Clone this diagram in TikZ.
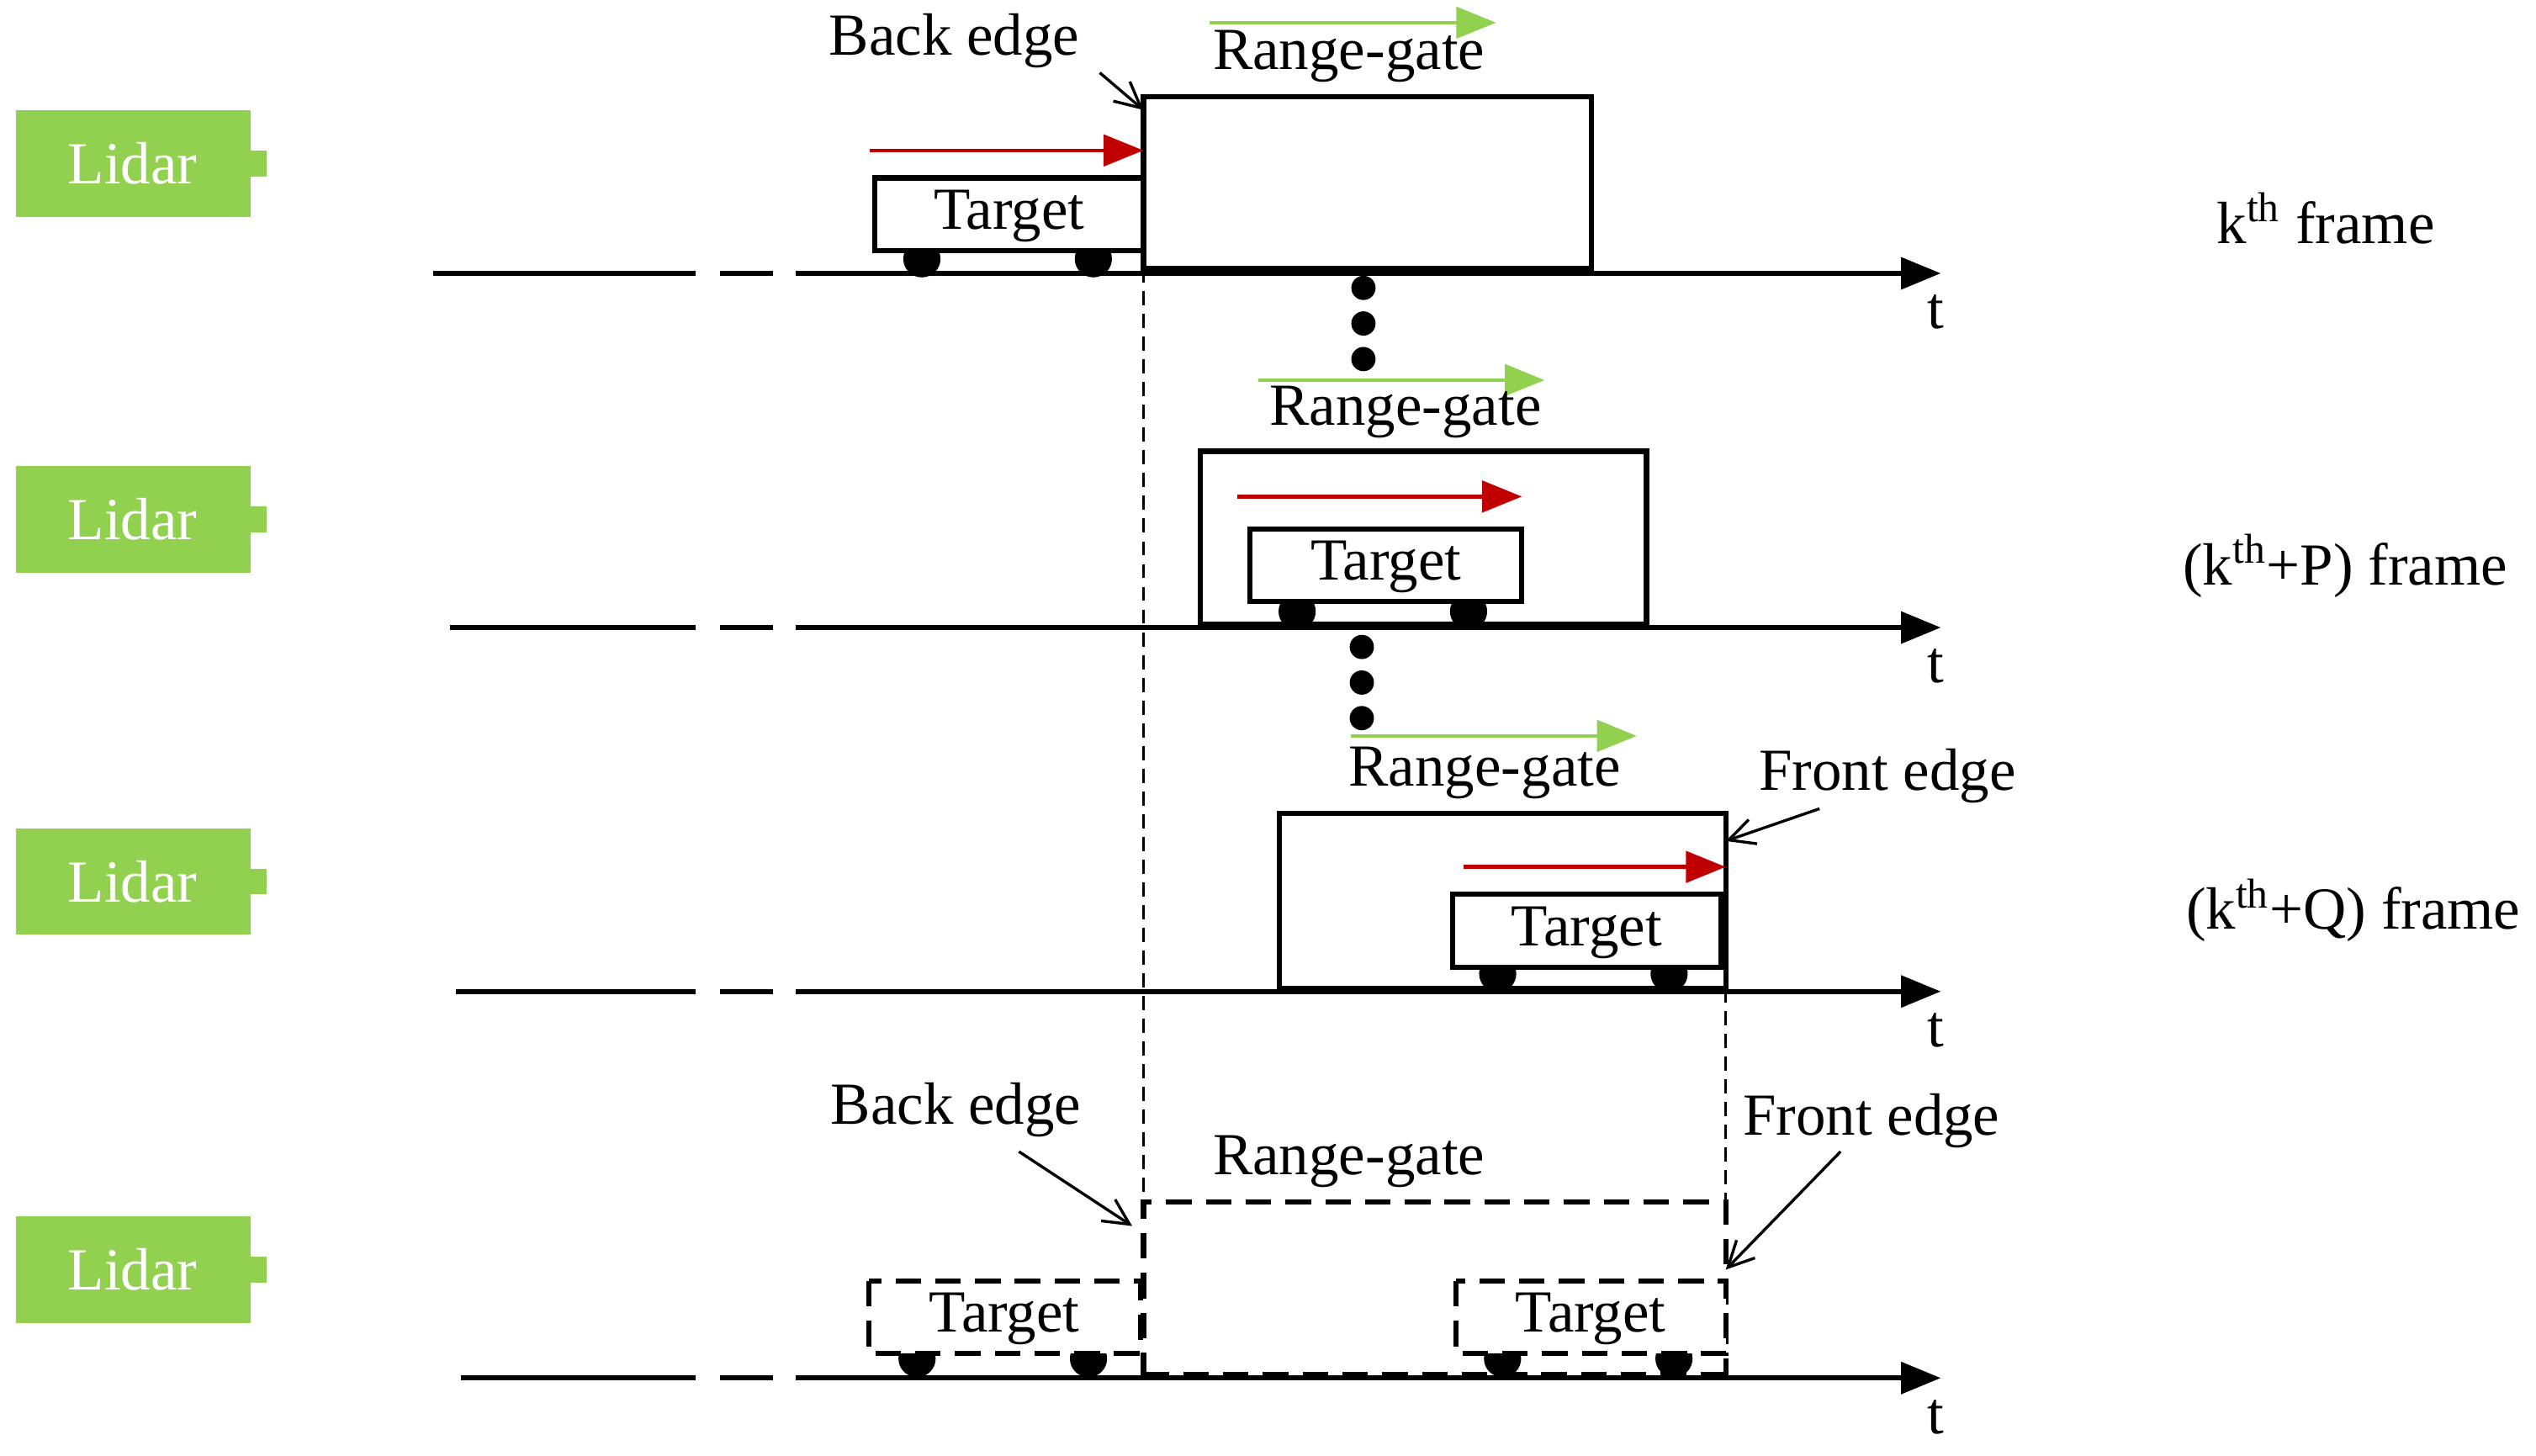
\documentclass[tikz,border=0pt]{standalone}
\usepackage{fontspec}
\setmainfont{Liberation Serif}
\usetikzlibrary{arrows.meta}
\definecolor{lg}{RGB}{146,208,80}
\definecolor{dr}{RGB}{192,0,0}
\begin{document}
\begin{tikzpicture}[x=0.02cm,y=-0.02cm,
  txt/.style={inner sep=0pt,font=\fontsize{21}{25}\selectfont},
  box/.style={line width=1.8pt},
  dbox/.style={line width=1.8pt,dash pattern=on 9pt off 5pt},
  ax/.style={line width=1.8pt,-{Triangle[length=14pt,width=11pt]}},
  garrow/.style={lg,line width=1.3pt,-{Triangle[length=14pt,width=11pt]}},
  rarrow/.style={dr,line width=1.3pt,-{Triangle[length=14pt,width=11pt]}},
  thin/.style={line width=0.9pt,dash pattern=on 5pt off 3pt},
  wheel/.style={fill=black,circle,inner sep=0pt,minimum size=0.46cm},
  dot/.style={fill=black,circle,inner sep=0pt,minimum size=0.3cm},
  lbl/.style={line width=1pt,-{Straight Barb[length=9pt,width=9pt]}}]
\useasboundingbox (0,0) rectangle (1568,900);
\newcommand{\lidar}[2]{%
  \fill[lg] (10,#1-33) rectangle (155,#1+33);
  \fill[lg] (154,#1-8) rectangle (165,#1+8);
  \node[txt,text=white] (#2) at (82,#1) {Lidar};}
\newcommand{\axis}[3]{%
  \draw[line width=1.8pt] (#1,#2) -- (430,#2);
  \draw[line width=1.8pt] (445,#2) -- (478,#2);
  \draw[line width=1.8pt] (492,#2) -- (540,#2);
  \coordinate (#3a) at (540,#2); \coordinate (#3b) at (1200,#2);
  \draw[ax] (#3a) -- (#3b);
  \node[txt] at (1197,#2+24) {t};}
\newcommand{\target}[6]{% x1 y1 x2 y2 style name
  \draw[#5,fill=white] (#1,#2) rectangle (#3,#4);
  \node[txt] (#6) at ({(#1+#3)/2},{(#2+#4)/2+1}) {Target};}
% frame 1
\lidar{101}{l1}
\axis{268}{169}{a1}
\draw[box] (707,60) rectangle (984,166);
\node[wheel] at (570,160) {}; \node[wheel] at (676,160) {};
\target{541}{110}{707}{155}{box}{t1}
\coordinate (r1a) at (538,93); \coordinate (r1b) at (707,93);
\draw[rarrow] (r1a) -- (r1b);
\coordinate (g1a) at (748,14); \coordinate (g1b) at (925,14);
\draw[garrow] (g1a) -- (g1b);
\node[txt] (rg1) at (834,35) {Range-gate};
\node[txt] (be1) at (590,25) {Back edge};
\coordinate (be1t) at (707,68);
\draw[lbl] (680,45) -- (be1t);
\node[dot] at (843,178) {}; \node[dot] at (843,200) {}; \node[dot] at (843,222) {};
\node[txt] (f1) at (1438,135) {k\textsuperscript{th} frame};
% frame 2
\lidar{321}{l2}
\axis{278}{388}{a2}
\draw[box] (742,279) rectangle (1018,386);
\node[wheel] at (802,378) {}; \node[wheel] at (908,378) {};
\target{773}{327}{941}{372}{box}{t2}
\coordinate (r2a) at (765,307); \coordinate (r2b) at (941,307);
\draw[rarrow] (r2a) -- (r2b);
\coordinate (g2a) at (778,235); \coordinate (g2b) at (955,235);
\draw[garrow] (g2a) -- (g2b);
\node[txt] (rg2) at (869,255) {Range-gate};
\node[dot] at (842,400) {}; \node[dot] at (842,422) {}; \node[dot] at (842,444) {};
\node[txt] (f2) at (1450,350) {(k\textsuperscript{th}+P) frame};
% frame 3
\lidar{545}{l3}
\axis{282}{613}{a3}
\draw[box] (791,503) rectangle (1067,611);
\node[wheel] at (926,602) {}; \node[wheel] at (1032,602) {};
\target{898}{553}{1064}{598}{box}{t3}
\coordinate (r3a) at (905,536); \coordinate (r3b) at (1067,536);
\draw[rarrow] (r3a) -- (r3b);
\coordinate (g3a) at (835,455); \coordinate (g3b) at (1012,455);
\draw[garrow] (g3a) -- (g3b);
\node[txt] (rg3) at (918,478) {Range-gate};
\node[txt] (fe3) at (1167,480) {Front edge};
\coordinate (fe3t) at (1067,520);
\draw[lbl] (1125,500) -- (fe3t);
\node[txt] (f3) at (1455,563) {(k\textsuperscript{th}+Q) frame};
% frame 4
\lidar{785}{l4}
\axis{285}{852}{a4}
\draw[dbox] (707,852) -- (707,743) -- (1067,743) -- (1067,852);
\draw[dbox] (707,850) -- (1067,850);
\node[wheel] at (567,840) {}; \node[wheel] at (673,840) {};
\node[wheel] at (929,840) {}; \node[wheel] at (1035,840) {};
\target{537}{792}{705}{837}{dbox}{t4}
\target{900}{792}{1067}{837}{dbox}{t5}
\node[txt] (be4) at (591,686) {Back edge};
\coordinate (be4t) at (700,758);
\draw[lbl] (630,712) -- (be4t);
\node[txt] (fe4) at (1157,693) {Front edge};
\coordinate (fe4t) at (1067,785);
\draw[lbl] (1138,712) -- (fe4t);
\node[txt] (rg4) at (834,718) {Range-gate};
% guide lines
\draw[thin] (707,166) -- (707,743);
\draw[thin] (1067,611) -- (1067,743);
\end{tikzpicture}
\end{document}
